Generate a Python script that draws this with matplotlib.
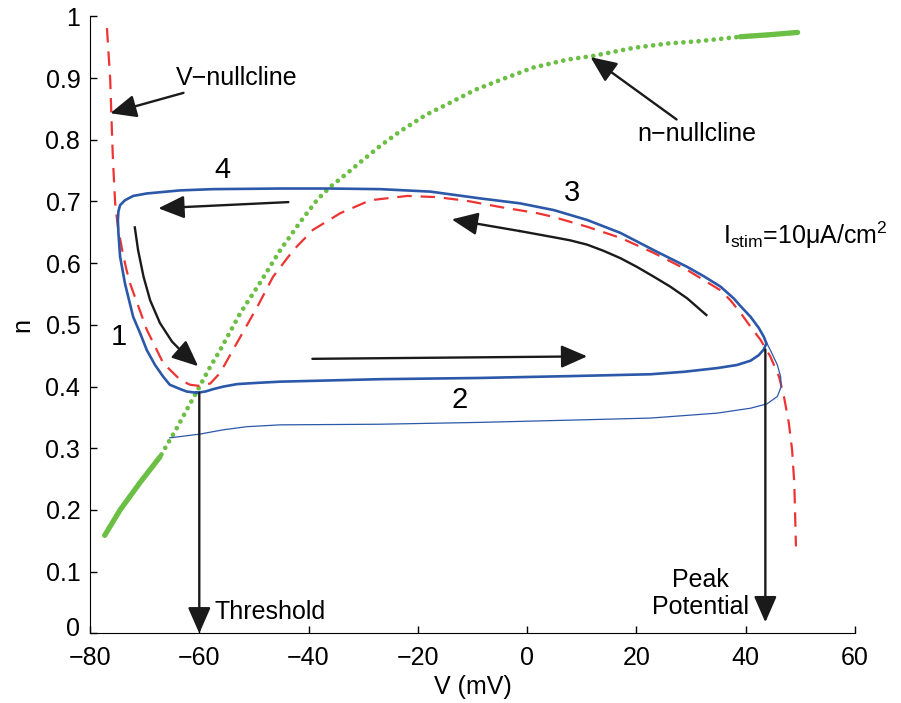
import numpy as np
import matplotlib
matplotlib.use('Agg')
import matplotlib.pyplot as plt
import matplotlib.transforms as mtransforms

plt.rcParams['font.family'] = ['Liberation Sans', 'DejaVu Sans']
plt.rcParams['mathtext.fontset'] = 'custom'
plt.rcParams['mathtext.rm'] = 'Liberation Sans'
plt.rcParams['axes.unicode_minus'] = True

# V-nullcline (red dashed)
vnull_v = [-76.9, -76.3, -76.0, -75.8, -75.4, -74.9, -74.1, -73.4, -72.7, -69.6, -66.6, -63.5,
           -61.7, -59.9, -58.0, -56.2, -53.1, -49.4, -46.5, -42.8, -39.2, -34.2, -28.7, -21.9,
           -16.4, -11.0, -4.9, 1.9, 4.8, 11.0, 17.1, 23.1, 29.3, 35.4, 37.2, 39.1, 40.9, 42.7,
           44.5, 46.1, 47.0, 47.9, 48.5, 48.9, 49.2]
vnull_n = [0.981, 0.897, 0.816, 0.767, 0.698, 0.659, 0.621, 0.592, 0.568, 0.492, 0.438, 0.411,
           0.403, 0.401, 0.405, 0.422, 0.471, 0.529, 0.578, 0.621, 0.654, 0.681, 0.702, 0.709,
           0.707, 0.701, 0.691, 0.681, 0.675, 0.659, 0.641, 0.617, 0.589, 0.556, 0.540, 0.519,
           0.497, 0.476, 0.449, 0.416, 0.384, 0.341, 0.297, 0.243, 0.141]

# n-nullcline (green)
nnull_v = [-77.3, -74.5, -70.8, -67.2, -64.1, -62.2, -60.2, -58.2, -56.2, -52.5, -48.9, -45.2,
           -41.5, -38.4, -36.0, -32.9, -30.5, -26.9, -23.2, -18.6, -14.1, -9.5, -4.9, 1.1, 7.4,
           12.1, 19.5, 25.7, 31.7, 39.0, 44.0, 49.5]
nnull_n = [0.159, 0.200, 0.245, 0.286, 0.333, 0.364, 0.396, 0.429, 0.459, 0.519, 0.568, 0.621,
           0.667, 0.703, 0.724, 0.746, 0.764, 0.790, 0.814, 0.840, 0.860, 0.881, 0.897, 0.917,
           0.930, 0.936, 0.949, 0.956, 0.960, 0.967, 0.970, 0.974]

# limit cycle (thick blue)
cyc_v = [-60.5, -58.9, -57.4, -55.6, -53.1, -49.5, -45.2, -26.9, -8.6, 7.9, 22.6, 28.7, 34.8,
         38.4, 40.9, 42.4, 43.3, 43.8, 43.3, 42.4, 40.9, 39.1, 37.8, 35.4, 32.3, 29.3, 23.2, 17.1,
         11.0, 4.9, -1.3, -8.6, -17.7, -26.9, -36.0, -45.2, -57.5, -63.5, -69.6, -72.1, -73.6,
         -74.5, -74.8, -74.9, -74.8, -74.5, -73.6, -72.1, -70.8, -69.6, -68.1, -66.6, -65.4,
         -63.5, -62.3, -60.5]
cyc_n = [0.390, 0.392, 0.396, 0.400, 0.404, 0.406, 0.408, 0.412, 0.414, 0.417, 0.420, 0.424,
         0.430, 0.435, 0.442, 0.451, 0.460, 0.470, 0.481, 0.495, 0.513, 0.530, 0.543, 0.562,
         0.579, 0.594, 0.621, 0.649, 0.670, 0.686, 0.697, 0.705, 0.716, 0.720, 0.721, 0.721,
         0.720, 0.718, 0.713, 0.709, 0.702, 0.694, 0.684, 0.670, 0.649, 0.611, 0.567, 0.513,
         0.486, 0.459, 0.435, 0.416, 0.403, 0.396, 0.392, 0.390]

# transient trajectory (thin blue)
tr_v = [-65.4, -63.5, -59.9, -55.6, -51.3, -45.2, -26.9, -8.6, 14.0, 22.6, 34.8, 40.9, 43.9,
        45.8, 46.5, 46.4, 45.8, 44.8, 43.9]
tr_n = [0.317, 0.319, 0.323, 0.330, 0.335, 0.338, 0.339, 0.342, 0.347, 0.349, 0.357, 0.365,
        0.372, 0.384, 0.400, 0.416, 0.435, 0.454, 0.470]

# curved direction arrows
arr1_v = [-71.8, -71.2, -70.2, -69.0, -67.2, -65.0, -62.9, -60.2]
arr1_n = [0.658, 0.621, 0.578, 0.540, 0.503, 0.473, 0.454, 0.433]
arr3_v = [32.8, 29.3, 26.2, 23.2, 20.1, 17.1, 14.0, 11.0, 7.9, 4.9, 1.8, -1.3, -13.8]
arr3_n = [0.516, 0.543, 0.562, 0.578, 0.594, 0.608, 0.620, 0.630, 0.637, 0.642, 0.647, 0.652,
          0.671]

blue = '#2b58a8'
red = '#ee3333'
green = '#6cbf45'
ink = '#1a1a1a'

fig = plt.figure(figsize=(9.01, 7.03), dpi=100)
ax = fig.add_axes([0.0999, 0.099, 0.849, 0.8777])

nv = np.array(nnull_v)
nn = np.array(nnull_n)
ax.plot(nv, nn, color=green, lw=3.4, dashes=(0.01, 1.6), dash_capstyle='round')
lo = nv <= -67.2
hi = nv >= 39.0
ax.plot(nv[lo], nn[lo], color=green, lw=3.8, solid_capstyle='round')
ax.plot(nv[hi], nn[hi], color=green, lw=3.8, solid_capstyle='round')

ax.plot(vnull_v, vnull_n, color=red, lw=1.6, dashes=(6.5, 4))
ax.plot(tr_v, tr_n, color=blue, lw=0.9)
ax.plot(cyc_v, cyc_n, color=blue, lw=1.9, solid_joinstyle='round')

ak = dict(arrowstyle='-|>,head_length=1.6,head_width=0.7', color=ink, lw=1.7,
          mutation_scale=10, shrinkA=0, shrinkB=0)

# straight arrows
ax.annotate('', xy=(-67.5, 0.689), xytext=(-43.7, 0.699), arrowprops=ak)
ax.annotate('', xy=(11.0, 0.449), xytext=(-39.3, 0.445), arrowprops=ak)
ax.annotate('', xy=(-60, 0.0), xytext=(-60, 0.39), arrowprops=ak)
ax.annotate('', xy=(43.6, 0.018), xytext=(43.6, 0.46), arrowprops=ak)

# curved arrows
ax.plot(arr1_v[:-1], arr1_n[:-1], color=ink, lw=1.7, solid_joinstyle='round')
ax.annotate('', xy=(arr1_v[-1], arr1_n[-1]), xytext=(arr1_v[-2], arr1_n[-2]), arrowprops=ak)
ax.plot(arr3_v[:-1], arr3_n[:-1], color=ink, lw=1.7, solid_joinstyle='round')
ax.annotate('', xy=(arr3_v[-1], arr3_n[-1]), xytext=(arr3_v[-2], arr3_n[-2]), arrowprops=ak)

# labelled arrows
ax.annotate('V−nullcline', xy=(-76.3, 0.843), xytext=(-64.3, 0.900), fontsize=18,
            va='center', ha='left', arrowprops=ak)
ax.annotate('n−nullcline', xy=(11.6, 0.934), xytext=(20.2, 0.809), fontsize=18,
            va='center', ha='left', arrowprops=ak)

fs = 21
ax.text(-55.8, 0.751, '4', fontsize=fs, ha='center', va='center')
ax.text(8.3, 0.714, '3', fontsize=fs, ha='center', va='center')
ax.text(-74.7, 0.480, '1', fontsize=fs, ha='center', va='center')
ax.text(-12.4, 0.378, '2', fontsize=fs, ha='center', va='center')
ax.text(35.8, 0.646, r'I$_{\mathregular{stim}}$=10μA/cm$^{\mathregular{2}}$', fontsize=18,
        ha='left', va='center', clip_on=False)
ax.text(-57.2, 0.035, 'Threshold', fontsize=18, ha='left', va='center')
ax.text(31.8, 0.064, 'Peak\nPotential', fontsize=18, ha='center', va='center', linespacing=1.15)

ax.set_xlim(-80, 60)
ax.set_ylim(0, 1)
ax.set_xticks(np.arange(-80, 61, 20))
ax.set_yticks(np.arange(0, 1.01, 0.1))
ax.set_yticklabels(['0', '0.1', '0.2', '0.3', '0.4', '0.5', '0.6', '0.7', '0.8', '0.9', '1'])
ax.spines['top'].set_visible(False)
ax.spines['right'].set_visible(False)
ax.tick_params(direction='in', length=5, labelsize=18, width=1)
ax.tick_params(axis='x', pad=9)
ax.tick_params(axis='y', pad=7)
ax.set_xlabel('V (mV)', fontsize=18, labelpad=4)
ax.set_ylabel('n', fontsize=18, labelpad=8)

# lift the y "0" label a little, as in the original
zero_lbl = ax.get_yticklabels()[0]
zero_lbl.set_transform(zero_lbl.get_transform() +
                       mtransforms.ScaledTranslation(0, 5 / 72, fig.dpi_scale_trans))

fig.savefig('out.png', dpi=100)
